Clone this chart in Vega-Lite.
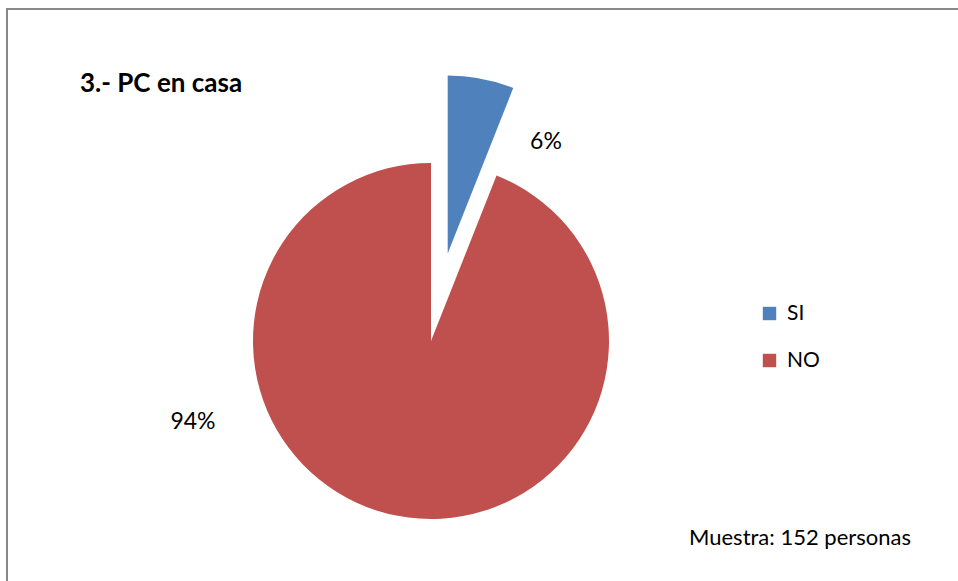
{
  "$schema": "https://vega.github.io/schema/vega-lite/v6.json",
  "autosize": "none",
  "width": 960,
  "height": 600,
  "padding": {"left": 7, "top": 9, "right": 0, "bottom": 0},
  "background": "white",
  "config": {"view": {"stroke": null}, "font": "Lato"},
  "title": {"text": "3.- PC en casa", "anchor": "start", "frame": "group", "orient": "top", "offset": 0, "baseline": "alphabetic", "dx": 73, "dy": 110, "fontSize": 26, "fontWeight": "bold", "font": "Lato", "color": "black"},
  "data": {"values": [
    {"respuesta": "SI", "porcentaje": 6, "etiqueta": "6%"},
    {"respuesta": "NO", "porcentaje": 94, "etiqueta": "94%"}
  ]},
  "layer": [
    {
      "data": {"values": [{"marco": 1}]},
      "mark": {"type": "rect", "fill": null, "stroke": "#898989", "strokeWidth": 2},
      "encoding": {}
    },
    {
      "mark": {"type": "arc", "radius": 178,
        "xOffset": {"expr": "datum.respuesta === 'SI' ? -39.3 : -56"},
        "yOffset": {"expr": "datum.respuesta === 'SI' ? -55.4 : 32"}},
      "encoding": {
        "theta": {"field": "porcentaje", "type": "quantitative", "stack": true},
        "order": {"field": "respuesta", "type": "nominal", "sort": "descending"},
        "color": {"field": "respuesta", "type": "nominal",
          "scale": {"domain": ["SI", "NO"], "range": ["#4F81BD", "#C0504D"]},
          "legend": {"orient": "none", "legendX": 752, "legendY": 294, "title": null, "symbolType": "square", "symbolSize": 180, "symbolStrokeWidth": 0, "labelFontSize": 21, "labelFont": "Lato", "labelColor": "black", "rowPadding": 25, "labelOffset": 7}
        }
      }
    },
    {
      "mark": {"type": "text", "radius": 0, "fontSize": 23, "font": "Lato", "color": "black", "baseline": "middle", "align": "center",
        "xOffset": -56, "yOffset": 32,
        "dx": {"expr": "datum.respuesta === 'SI' ? 115 : -238"},
        "dy": {"expr": "datum.respuesta === 'SI' ? -199 : 81"}},
      "encoding": {
        "theta": {"field": "porcentaje", "type": "quantitative", "stack": true},
        "order": {"field": "respuesta", "type": "nominal", "sort": "descending"},
        "text": {"field": "etiqueta", "type": "nominal"}
      }
    },
    {
      "data": {"values": [{"nota": "Muestra: 152 personas"}]},
      "mark": {"type": "text", "x": 682, "y": 536, "align": "left", "baseline": "alphabetic", "fontSize": 22, "font": "Lato", "color": "black"},
      "encoding": {"text": {"field": "nota", "type": "nominal"}}
    }
  ]
}
